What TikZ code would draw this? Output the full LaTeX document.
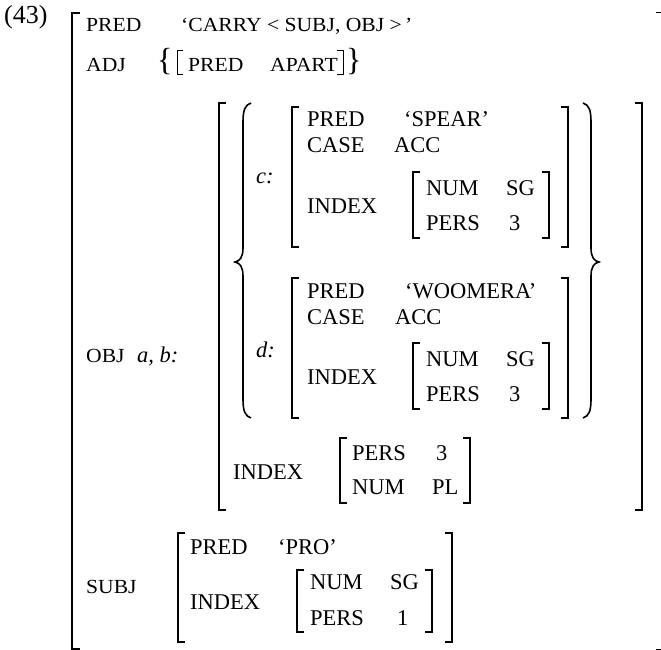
\documentclass[tikz,border=0pt]{standalone}
\usepackage{fontspec}
\setmainfont{Liberation Serif}
\begin{document}
\begin{tikzpicture}[x=1pt,y=-1pt,
  sm/.style={font=\fontsize{20}{22}\selectfont, xscale=1.08, anchor=base west, inner sep=0pt},
  bg/.style={font=\fontsize{22.5}{24}\selectfont, anchor=base west, inner sep=0pt},
  itx/.style={font=\fontsize{22.5}{24}\selectfont\itshape, anchor=base west, inner sep=0pt},
  brk/.style={line width=1.3pt},
  thinbrk/.style={line width=1pt},
  brc/.style={line width=1.6pt}]
\useasboundingbox (0,0) rectangle (661,650);
% example number
\node[font=\fontsize{26}{28}\selectfont, anchor=base west, inner sep=0pt] (num) at (4,24) {(43)};
% outer bracket
\draw[brk] (80,13) -- (72,13) -- (72,649) -- (80,649);
\draw[thinbrk] (656,13) -- (661,13);
\draw[thinbrk] (656,649) -- (661,649);
% row 1
\node[sm] (pred) at (86,32) {PRED};
\node[sm] (carry) at (181,32) {‘CARRY\hspace{5pt}<\hspace{5pt}SUBJ, OBJ\hspace{5pt}>\hspace{3pt}’};
% row 2
\node[sm] (adj) at (86,72) {ADJ};
\node[font=\fontsize{32}{32}\selectfont, anchor=base west, inner sep=0pt] (lbr) at (157,71) {\{};
\draw[thinbrk] (183,51) -- (177,51) -- (177,75) -- (183,75);
\node[sm] (apred) at (188,72) {PRED};
\node[sm] (apart) at (270,72) {APART};
\draw[thinbrk] (337,51) -- (343,51) -- (343,75) -- (337,75);
\node[font=\fontsize{32}{32}\selectfont, anchor=base west, inner sep=0pt] (rbr) at (346,71) {\}};
% OBJ
\node[sm] (obj) at (86,362) {OBJ};
\node[itx] (ab) at (137,362) {a, b:};
\draw[brk] (226,103) -- (219,103) -- (219,510) -- (226,510);
\draw[brk] (635,103) -- (642,103) -- (642,510) -- (635,510);
% set braces
\draw[brc] (251,103) .. controls (245,105) and (243,110) .. (243,122) -- (243,248)
  .. controls (243,257) and (240,261) .. (235,262)
  .. controls (240,263) and (243,267) .. (243,276) -- (243,399)
  .. controls (243,411) and (245,416) .. (251,418);
\draw[brc] (583,103) .. controls (589,105) and (591,110) .. (591,122) -- (591,248)
  .. controls (591,257) and (594,261) .. (599,262)
  .. controls (594,263) and (591,267) .. (591,276) -- (591,399)
  .. controls (591,411) and (589,416) .. (583,418);
% c
\node[itx] (c) at (256,183) {c:};
\draw[brk] (299,107) -- (292,107) -- (292,247) -- (299,247);
\draw[brk] (561,107) -- (568,107) -- (568,247) -- (561,247);
\node[bg] (cpred) at (307,127) {PRED};
\node[bg] (cspear) at (404,127) {‘SPEAR’};
\node[bg] (ccase) at (307,153) {CASE};
\node[bg] (cacc) at (394,153) {ACC};
\node[bg] (cindex) at (307,213) {INDEX};
\draw[brk] (420,172) -- (413,172) -- (413,238) -- (420,238);
\draw[brk] (542,172) -- (549,172) -- (549,238) -- (542,238);
\node[bg] (cnum) at (426,195) {NUM};
\node[bg] (csg) at (506,195) {SG};
\node[bg] (cpers) at (426,230) {PERS};
\node[bg] (cthree) at (509,230) {3};
% d
\node[itx] (d) at (256,357) {d:};
\draw[brk] (299,278) -- (292,278) -- (292,418) -- (299,418);
\draw[brk] (561,278) -- (568,278) -- (568,418) -- (561,418);
\node[bg] (dpred) at (307,298) {PRED};
\node[bg] (dwoom) at (405,298) {‘WOOMERA’};
\node[bg] (dcase) at (307,324) {CASE};
\node[bg] (dacc) at (395,324) {ACC};
\node[bg] (dindex) at (307,384) {INDEX};
\draw[brk] (420,343) -- (413,343) -- (413,409) -- (420,409);
\draw[brk] (542,343) -- (549,343) -- (549,409) -- (542,409);
\node[bg] (dnum) at (426,366) {NUM};
\node[bg] (dsg) at (506,366) {SG};
\node[bg] (dpers) at (426,401) {PERS};
\node[bg] (dthree) at (509,401) {3};
% OBJ index
\node[bg] (oindex) at (233,479) {INDEX};
\draw[brk] (347,438) -- (340,438) -- (340,503) -- (347,503);
\draw[brk] (463,438) -- (470,438) -- (470,503) -- (463,503);
\node[bg] (opers) at (352,460) {PERS};
\node[bg] (othree) at (436,460) {3};
\node[bg] (onum) at (352,494) {NUM};
\node[bg] (opl) at (432,494) {PL};
% SUBJ
\node[sm] (subj) at (86,593) {SUBJ};
\draw[brk] (185,533) -- (178,533) -- (178,642) -- (185,642);
\draw[brk] (445,533) -- (452,533) -- (452,642) -- (445,642);
\node[bg] (spred) at (190,554) {PRED};
\node[bg] (spro) at (278,554) {‘PRO’};
\node[bg] (sindex) at (190,609) {INDEX};
\draw[brk] (304,570) -- (297,570) -- (297,632) -- (304,632);
\draw[brk] (425,570) -- (432,570) -- (432,632) -- (425,632);
\node[bg] (snum) at (310,589) {NUM};
\node[bg] (ssg) at (390,589) {SG};
\node[bg] (spers) at (310,625) {PERS};
\node[bg] (sone) at (397,625) {1};
\end{tikzpicture}
\end{document}
